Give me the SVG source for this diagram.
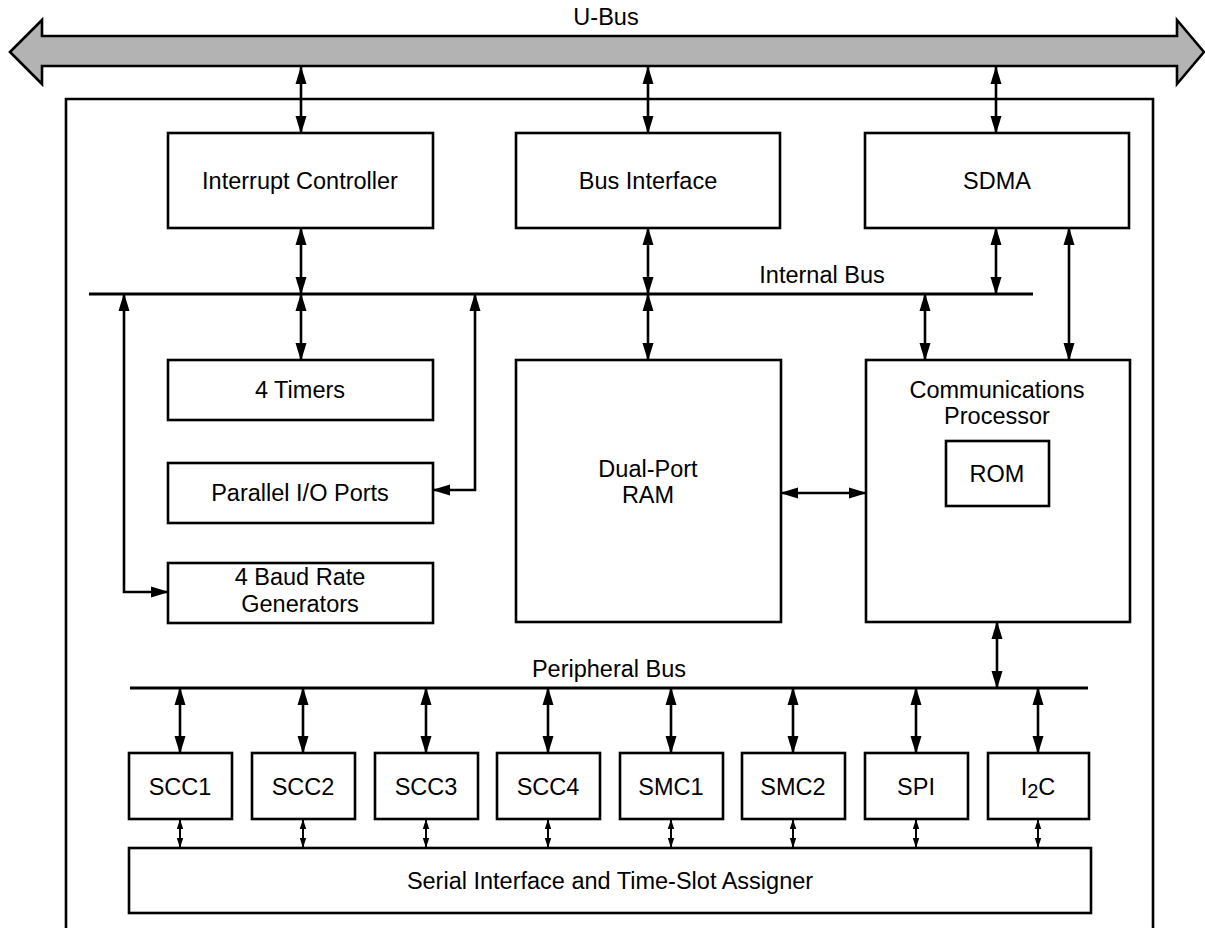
<svg xmlns="http://www.w3.org/2000/svg" width="1205" height="928" viewBox="0 0 1205 928">
<style>
.box{fill:#fff;stroke:#000;stroke-width:2.6}
.t{font-family:"Liberation Sans",Arial,sans-serif;font-size:23.5px;fill:#000;text-anchor:middle}
.c{fill:none;stroke:#000;stroke-width:2.6}
.a{marker-start:url(#ah);marker-end:url(#ah)}
.s{fill:none;stroke:#000;stroke-width:2;marker-start:url(#sh);marker-end:url(#sh)}
.bus{fill:none;stroke:#000;stroke-width:2.8}
</style>
<defs>
<marker id="ah" markerUnits="userSpaceOnUse" markerWidth="20" markerHeight="12" refX="17" refY="6" orient="auto-start-reverse" viewBox="0 0 20 12">
<path d="M0,0.5 L18,6 L0,11.5 z" fill="#000"/>
</marker>
<marker id="sh" markerUnits="userSpaceOnUse" markerWidth="10" markerHeight="8" refX="9" refY="4" orient="auto-start-reverse" viewBox="0 0 10 8">
<path d="M0,0.8 L10,4 L0,7.2 z" fill="#000"/>
</marker>
</defs>
<rect width="1205" height="928" fill="#fff"/>

<g id="ubus">
<polygon points="10,52 42,20 42,36 1177,36 1177,20 1204,52 1177,84 1177,66 42,66 42,84" fill="#b3b3b3" stroke="#000" stroke-width="2.6"/>
<text class="t" x="606" y="25">U-Bus</text>
</g>

<g id="frame">
<path d="M66,932 V99 H1153 V932" fill="none" stroke="#000" stroke-width="2.6"/>
</g>

<g id="internal-bus">
<line class="bus" x1="89" y1="294" x2="1033" y2="294"/>
<text class="t" x="822" y="283">Internal Bus</text>
</g>
<g id="peripheral-bus">
<line class="bus" x1="130" y1="688" x2="1088" y2="688"/>
<text class="t" x="609" y="677">Peripheral Bus</text>
</g>

<g id="connectors">
<line class="c a" x1="301" y1="67" x2="301" y2="133"/>
<line class="c a" x1="648" y1="67" x2="648" y2="133"/>
<line class="c a" x1="996" y1="67" x2="996" y2="133"/>
<line class="c a" x1="301" y1="228" x2="301" y2="294"/>
<line class="c a" x1="648" y1="228" x2="648" y2="294"/>
<line class="c a" x1="996" y1="228" x2="996" y2="294"/>
<line class="c a" x1="1069" y1="228" x2="1069" y2="360"/>
<line class="c a" x1="301" y1="294" x2="301" y2="360"/>
<line class="c a" x1="648" y1="294" x2="648" y2="360"/>
<line class="c a" x1="925" y1="294" x2="925" y2="360"/>
<path class="c a" d="M124,294 V592 H168"/>
<path class="c a" d="M475,294 V490 H433"/>
<line class="c a" x1="781" y1="493" x2="866" y2="493"/>
<line class="c a" x1="997" y1="622" x2="997" y2="688"/>
<line class="c a" x1="180" y1="688" x2="180" y2="753"/>
<line class="c a" x1="303" y1="688" x2="303" y2="753"/>
<line class="c a" x1="426" y1="688" x2="426" y2="753"/>
<line class="c a" x1="548" y1="688" x2="548" y2="753"/>
<line class="c a" x1="671" y1="688" x2="671" y2="753"/>
<line class="c a" x1="793" y1="688" x2="793" y2="753"/>
<line class="c a" x1="916" y1="688" x2="916" y2="753"/>
<line class="c a" x1="1038" y1="688" x2="1038" y2="753"/>
<line class="s" x1="180" y1="820" x2="180" y2="847"/>
<line class="s" x1="303" y1="820" x2="303" y2="847"/>
<line class="s" x1="426" y1="820" x2="426" y2="847"/>
<line class="s" x1="548" y1="820" x2="548" y2="847"/>
<line class="s" x1="671" y1="820" x2="671" y2="847"/>
<line class="s" x1="793" y1="820" x2="793" y2="847"/>
<line class="s" x1="916" y1="820" x2="916" y2="847"/>
<line class="s" x1="1038" y1="820" x2="1038" y2="847"/>
</g>

<g id="interrupt-controller"><rect class="box" x="168" y="133" width="265" height="95"/><text class="t" x="300" y="189">Interrupt Controller</text></g>
<g id="bus-interface"><rect class="box" x="516" y="133" width="264" height="95"/><text class="t" x="648" y="189">Bus Interface</text></g>
<g id="sdma"><rect class="box" x="865" y="133" width="264" height="95"/><text class="t" x="997" y="189">SDMA</text></g>

<g id="timers"><rect class="box" x="168" y="360" width="265" height="60"/><text class="t" x="300" y="398">4 Timers</text></g>
<g id="parallel-io"><rect class="box" x="168" y="463" width="265" height="60"/><text class="t" x="300" y="501">Parallel I/O Ports</text></g>
<g id="baud-rate"><rect class="box" x="168" y="563" width="265" height="60"/><text class="t" x="300" y="585">4 Baud Rate</text><text class="t" x="300" y="612">Generators</text></g>

<g id="dual-port-ram"><rect class="box" x="516" y="360" width="265" height="262"/><text class="t" x="648" y="477">Dual-Port</text><text class="t" x="648" y="503">RAM</text></g>

<g id="comm-processor"><rect class="box" x="866" y="360" width="264" height="262"/><text class="t" x="997" y="398">Communications</text><text class="t" x="997" y="424">Processor</text></g>
<g id="rom"><rect class="box" x="946" y="441" width="103" height="65"/><text class="t" x="997" y="482">ROM</text></g>

<g id="scc1"><rect class="box" x="129" y="753" width="103" height="66"/><text class="t" x="180" y="795">SCC1</text></g>
<g id="scc2"><rect class="box" x="252" y="753" width="103" height="66"/><text class="t" x="303" y="795">SCC2</text></g>
<g id="scc3"><rect class="box" x="375" y="753" width="103" height="66"/><text class="t" x="426" y="795">SCC3</text></g>
<g id="scc4"><rect class="box" x="497" y="753" width="103" height="66"/><text class="t" x="548" y="795">SCC4</text></g>
<g id="smc1"><rect class="box" x="620" y="753" width="103" height="66"/><text class="t" x="671" y="795">SMC1</text></g>
<g id="smc2"><rect class="box" x="742" y="753" width="103" height="66"/><text class="t" x="793" y="795">SMC2</text></g>
<g id="spi"><rect class="box" x="865" y="753" width="103" height="66"/><text class="t" x="916" y="795">SPI</text></g>
<g id="i2c"><rect class="box" x="988" y="753" width="101" height="66"/><text class="t" x="1038" y="795">I<tspan font-size="20" dy="3">2</tspan><tspan dy="-3">C</tspan></text></g>

<g id="serial-interface"><rect class="box" x="129" y="848" width="962" height="65"/><text class="t" x="610" y="889">Serial Interface and Time-Slot Assigner</text></g>
</svg>
